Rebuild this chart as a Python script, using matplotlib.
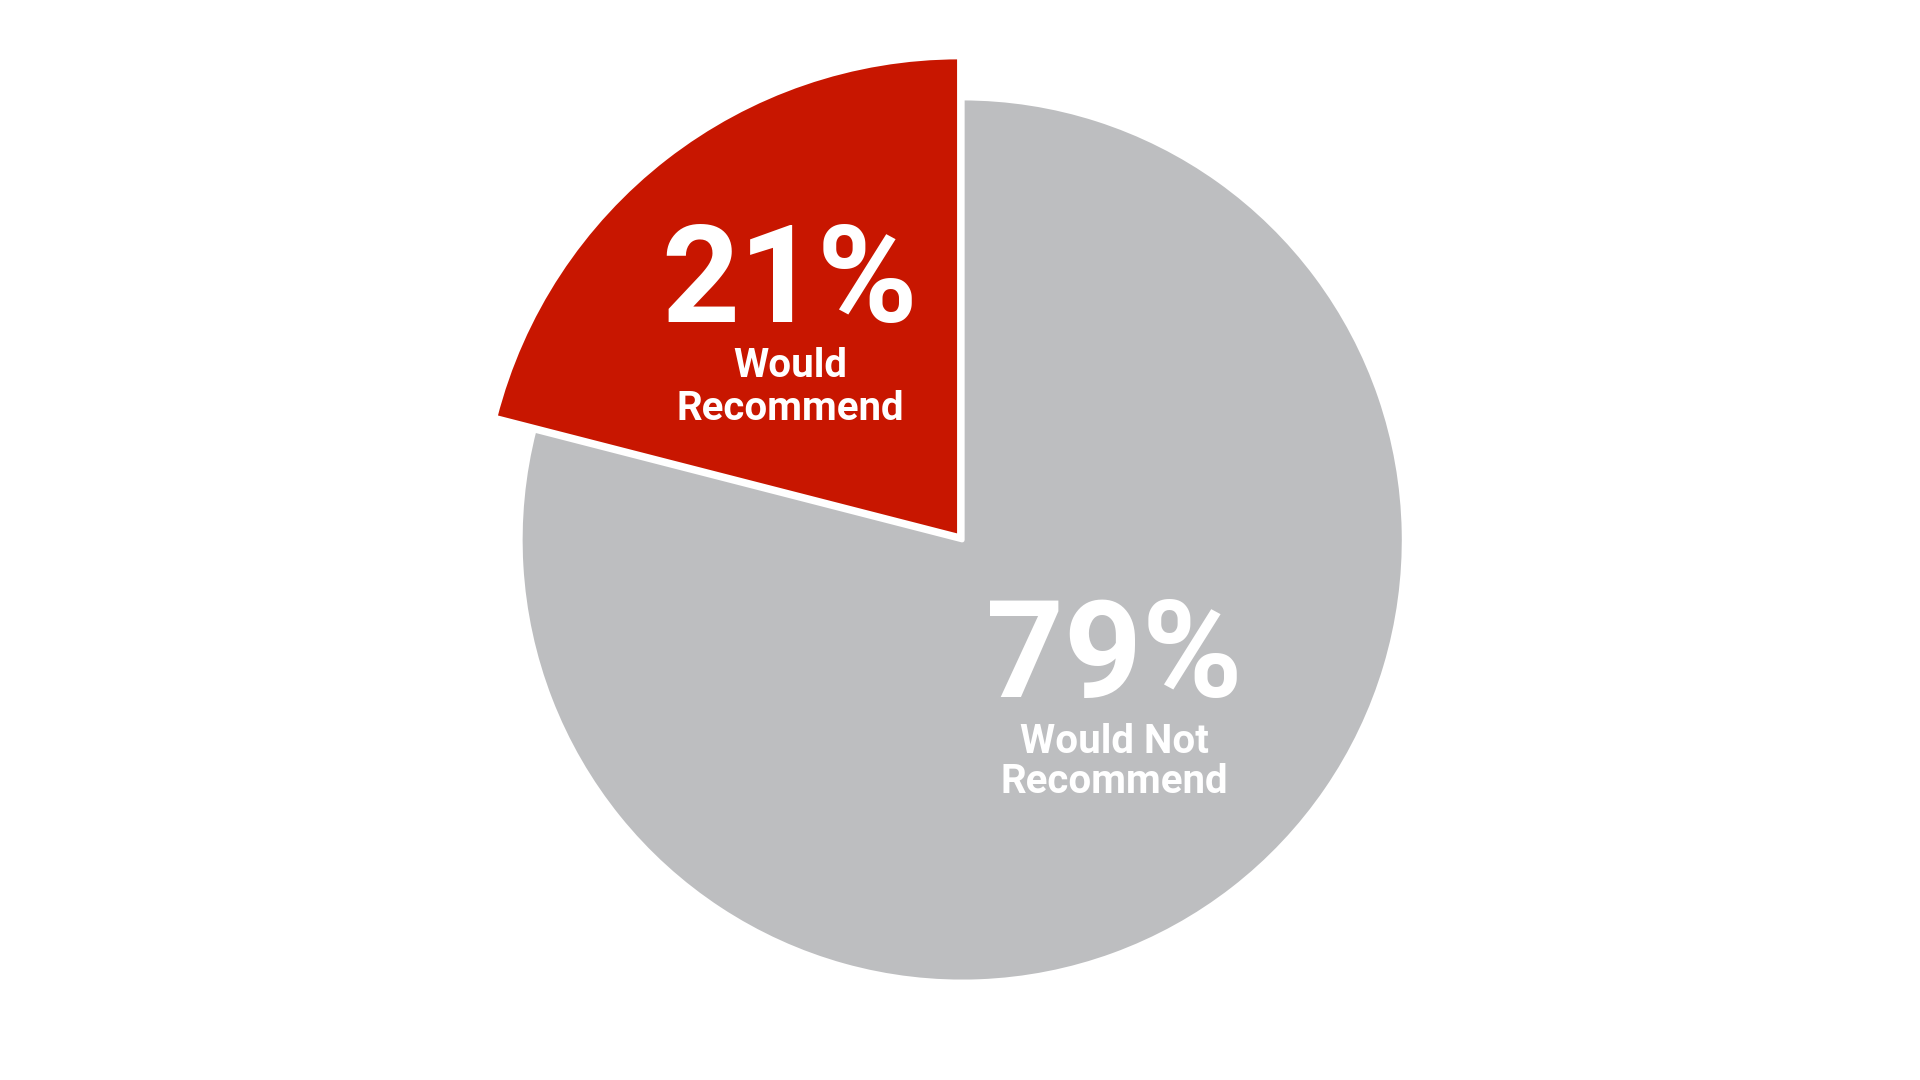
import matplotlib.pyplot as plt

# data
shares = [21, 79]
pct_labels = ["21%", "79%"]
sub_labels = [["Would", "Recommend"], ["Would Not", "Recommend"]]
colors = ["#C81600", "#BDBEC0"]

plt.rcParams['font.family'] = ['Roboto', 'DejaVu Sans']

fig = plt.figure(figsize=(19.2, 10.8), dpi=100)
ax = fig.add_axes([0, 0, 1, 1])

# 1 data unit = 442 px, pie sits in the middle of the canvas
scale = 442.0

wedges, _ = ax.pie(shares, colors=colors, startangle=90, radius=1.0,
                   center=(0.005, 0.0), explode=[0.01, 0],
                   wedgeprops=dict(edgecolor='white', linewidth=3.5,
                                   joinstyle='round'))
# highlighted slice is drawn bigger than the rest
wedges[0].set_radius(1.085)
wedges[0].set_zorder(3)

ax.set_xlim(-960 / scale, 960 / scale)
ax.set_ylim(-540 / scale, 540 / scale)
ax.set_aspect('equal')
ax.axis('off')

# text placement in pixels (x centre, baselines)
pct_pos = [(790, 322), (1114, 697)]
sub_base = [[377, 420], [753, 793]]

for i in range(len(shares)):
    x, y = pct_pos[i]
    fig.text(x / 1920, 1 - y / 1080, pct_labels[i], ha='center', va='baseline',
             color='white', fontsize=98, fontweight='bold')
    for line, yb in zip(sub_labels[i], sub_base[i]):
        fig.text(x / 1920, 1 - yb / 1080, line, ha='center', va='baseline',
                 color='white', fontsize=29, fontweight='bold')

plt.savefig("out.png", dpi=100)
